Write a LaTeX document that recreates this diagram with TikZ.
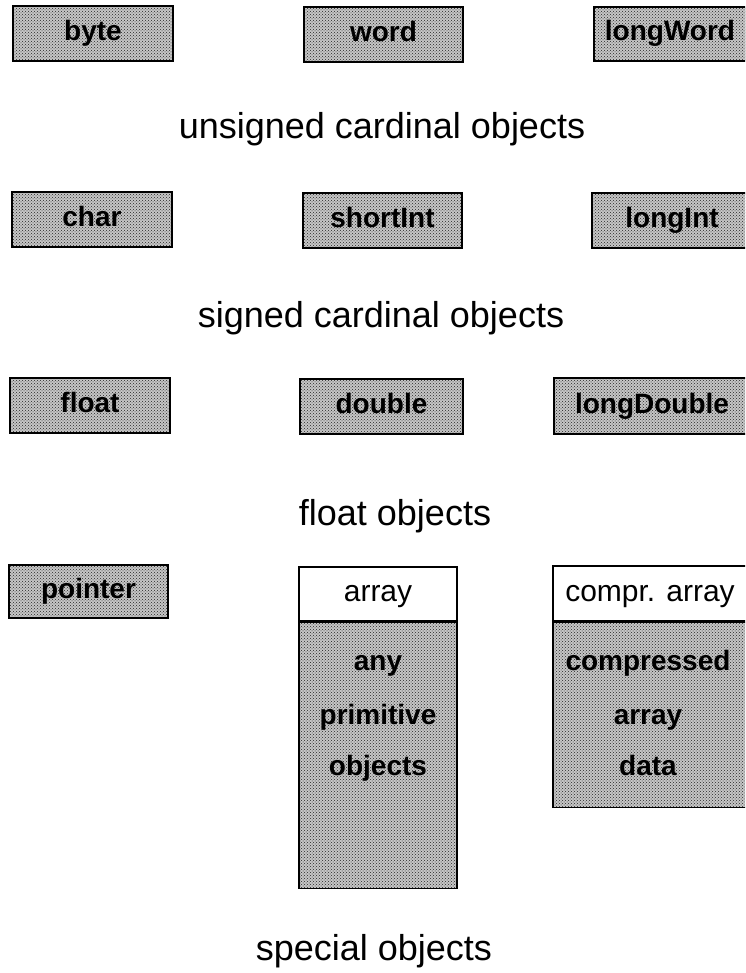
\documentclass[tikz,border=0pt]{standalone}
\usepackage{fontspec}
\setmainfont{Liberation Sans}
\usetikzlibrary{patterns}
\begin{document}
\tikzset{
  shade/.style={preaction={fill=gray!45}, pattern=crosshatch dots, pattern color=black!85},
  pbox/.style={draw=black, line width=1.8pt, shade, rectangle, inner sep=0pt,
    text height=20pt, text depth=6pt,
    font=\fontsize{28}{32}\selectfont\bfseries},
  hbox/.style={draw=black, line width=1.5pt, fill=white, rectangle, inner sep=0pt,
    text height=22pt, text depth=6pt,
    font=\fontsize{30}{34}\selectfont},
  bbox/.style={draw=black, line width=1.5pt, shade, rectangle, inner sep=0pt},
  btext/.style={inner sep=0pt, anchor=base, font=\fontsize{28}{32}\selectfont\bfseries},
  lbl/.style={inner sep=0pt, anchor=base, font=\fontsize{36}{40}\selectfont}
}
\begin{tikzpicture}[x=1pt,y=-1pt]
\useasboundingbox (0,0) rectangle (745,973);
\begin{scope}
\clip (0,0) rectangle (745,973);
% row 1
\node[pbox, minimum width=160pt, minimum height=55pt] (byte) at (93,33.5) {byte};
\node[pbox, minimum width=159pt, minimum height=55pt] (word) at (383.5,34.5) {word};
\node[pbox, minimum width=152pt, minimum height=54pt] (longword) at (670,34) {longWord};
\node[lbl] (unsigned) at (382,139) {unsigned cardinal objects};
% row 2
\node[pbox, minimum width=160pt, minimum height=55pt] (char) at (92,219.5) {char};
\node[pbox, minimum width=159pt, minimum height=55pt] (shortint) at (382.5,220.5) {shortInt};
\node[pbox, minimum width=160pt, minimum height=55pt] (longint) at (672,220.5) {longInt};
\node[lbl] (signed) at (381,327) {signed cardinal objects};
% row 3
\node[pbox, minimum width=160pt, minimum height=55pt] (float) at (90,405.5) {float};
\node[pbox, minimum width=163pt, minimum height=55pt] (double) at (381.5,406.5) {double};
\node[pbox, minimum width=196pt, minimum height=56pt] (longdouble) at (652,406) {longDouble};
\node[lbl] (floatobj) at (395,525) {float objects};
% row 4
\node[pbox, minimum width=159pt, minimum height=53pt] (pointer) at (88.5,591.5) {pointer};
% array
\node[hbox, minimum width=158pt, minimum height=54pt, anchor=north] (arrhead) at (378,566) {array};
\node[bbox, minimum width=158pt, minimum height=266pt, anchor=north] (arrbody) at (arrhead.south) {};
\node[btext] (any) at (378,670) {any};
\node[btext] (primitive) at (378,724) {primitive};
\node[btext] (objects) at (378,775) {objects};
% compressed array
\node[hbox, minimum width=194pt, minimum height=55pt, anchor=north] (carrhead) at (650,565) {compr. array};
\node[bbox, minimum width=194pt, minimum height=185pt, anchor=north] (carrbody) at (carrhead.south) {};
\node[btext] (compressed) at (648,670) {compressed};
\node[btext] (carray) at (648,724) {array};
\node[btext] (data) at (648,775) {data};
\end{scope}
\node[lbl] (special) at (374,960) {special objects};
\end{tikzpicture}
\end{document}
